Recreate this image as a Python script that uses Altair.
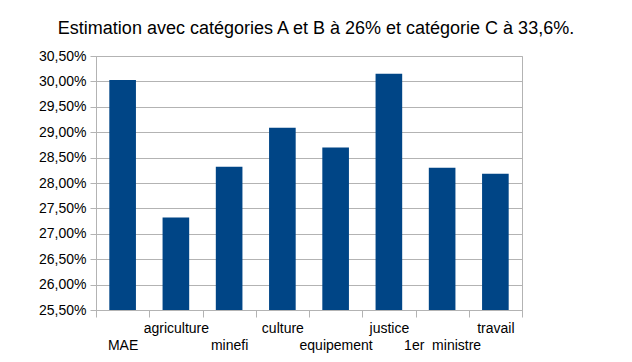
import altair as alt
import pandas as pd

categories = ["MAE", "agriculture", "minefi", "culture", "equipement", "justice", "1er\u00a0 ministre", "travail"]
values = [30.03, 27.32, 28.32, 29.09, 28.70, 30.15, 28.30, 28.18]
y_ticks = [25.5, 26.0, 26.5, 27.0, 27.5, 28.0, 28.5, 29.0, 29.5, 30.0, 30.5]
upper_labels = ["agriculture", "culture", "justice", "travail"]

df = pd.DataFrame({"cat": categories, "val": values})

FONT = "Liberation Sans"
GRAY = "#b3b3b3"

label_expr = (
    "indexof(" + str(upper_labels).replace('"', "'") + ", datum.value) >= 0"
    " ? datum.label : ['', datum.label]"
)

chart = alt.Chart(df).mark_bar(color="#004586", width=alt.RelativeBandSize(0.5), clip=True).encode(
    x=alt.X(
        "cat:N",
        sort=categories,
        title=None,
        scale=alt.Scale(paddingInner=0, paddingOuter=0),
        axis=alt.Axis(
            labelAngle=0,
            tickBand="extent",
            grid=False,
            domainColor=GRAY,
            tickColor=GRAY,
            tickSize=7,
            labelPadding=4,
            labelFont=FONT,
            labelFontSize=14,
            labelColor="#000000",
            labelLineHeight=17,
            labelExpr=label_expr,
        ),
    ),
    y=alt.Y(
        "val:Q",
        title=None,
        scale=alt.Scale(domain=[25.5, 30.5], zero=False, nice=False),
        axis=alt.Axis(
            values=y_ticks,
            labelExpr="replace(format(datum.value, '.2f'), '.', ',') + '%'",
            gridColor=GRAY,
            domainColor=GRAY,
            tickColor=GRAY,
            tickSize=6,
            labelPadding=4,
            labelFont=FONT,
            labelFontSize=14,
            labelColor="#000000",
        ),
    ),
).properties(
    width=426,
    height=254,
    title=alt.TitleParams(
        "Estimation avec catégories A et B à 26% et catégorie C à 33,6%.",
        font=FONT,
        fontSize=18,
        fontWeight="normal",
        color="#000000",
        anchor="middle",
        dx=7,
        offset=11,
    ),
    autosize=alt.AutoSizeParams(type="none"),
    padding={"left": 88, "top": 48, "right": 102, "bottom": 44},
).configure_view(
    stroke=GRAY,
    strokeWidth=1,
)

chart.save("out.html", embed_options={"renderer": "svg", "actions": False})
